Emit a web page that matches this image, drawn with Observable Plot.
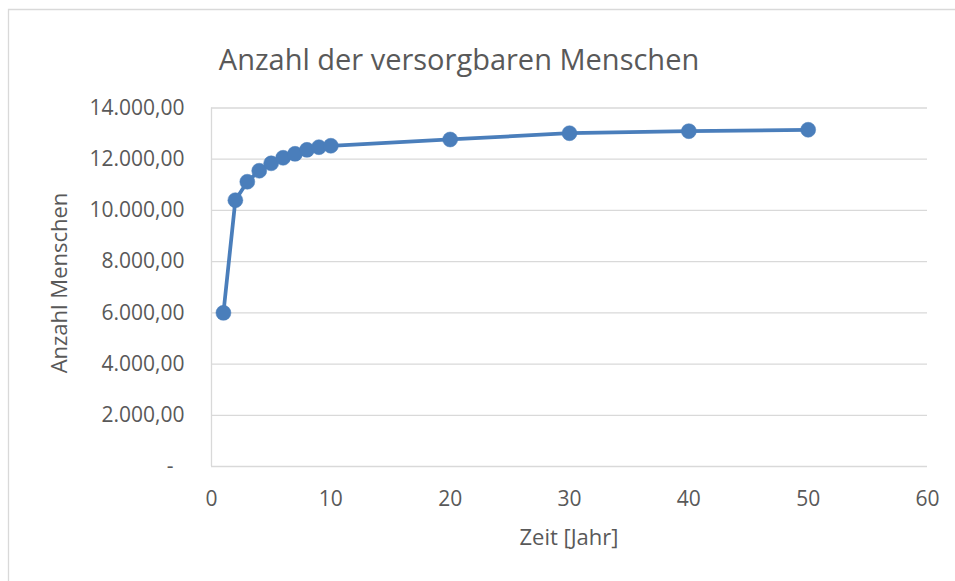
<!DOCTYPE html>
<html>
<head>
<meta charset="utf-8">
<script src="https://cdn.jsdelivr.net/npm/d3@7"></script>
<script src="https://cdn.jsdelivr.net/npm/@observablehq/plot@0.6"></script>
<style>
  html, body { margin: 0; padding: 0; background: #fff; }
  #chart { position: relative; width: 955px; height: 581px; overflow: hidden; }
</style>
</head>
<body>
<div id="chart"></div>
<script>
const years = [1, 2, 3, 4, 5, 6, 7, 8, 9, 10, 20, 30, 40, 50];
const people = [6000, 10400, 11120, 11550, 11840, 12055, 12210, 12365, 12470, 12525, 12770, 13015, 13095, 13150];
const xTicks = [0, 10, 20, 30, 40, 50, 60];
const yTicks = [0, 2000, 4000, 6000, 8000, 10000, 12000, 14000];
const titleText = "Anzahl der versorgbaren Menschen";
const xLabel = "Zeit [Jahr]";
const yLabel = "Anzahl Menschen";

const data = years.map((y, i) => ({year: y, value: people[i]}));

const de = d3.formatLocale({decimal: ",", thousands: ".", grouping: [3], currency: ["", "€"]});
const fmt = de.format(",.2f");
const yFmt = v => v === 0 ? "-\u00a0\u00a0" : fmt(v);

const blue = "#4a7ebb";
const grid = "#d9d9d9";
const textCol = "#595959";

const plot = Plot.plot({
  width: 955,
  height: 581,
  marginLeft: 211,
  marginRight: 28,
  marginTop: 107.5,
  marginBottom: 115,
  style: {fontFamily: "Open Sans", fontSize: "21px", color: textCol, background: "transparent"},
  x: {domain: [0, 60], ticks: xTicks},
  y: {domain: [0, 14000], ticks: yTicks},
  marks: [
    Plot.gridY(yTicks.filter(d => d > 0), {stroke: grid, strokeOpacity: 1, strokeWidth: 1.3}),
    Plot.ruleY([0], {stroke: grid, strokeWidth: 1.3}),
    Plot.ruleX([0], {y1: 0, y2: 14000, stroke: grid, strokeWidth: 1.3}),
    Plot.axisX({ticks: xTicks, tickSize: 0, tickPadding: 25, label: null, fontSize: 21, fill: textCol}),
    Plot.axisY({ticks: yTicks, tickSize: 0, tickPadding: 27, tickFormat: yFmt, label: null, fontSize: 21, fill: textCol}),
    Plot.line(data, {x: "year", y: "value", stroke: blue, strokeWidth: 3.75}),
    Plot.dot(data, {x: "year", y: "value", r: 7.5, fill: blue, stroke: blue, strokeWidth: 0.5})
  ]
});

document.getElementById("chart").appendChild(plot);
const svg = d3.select(plot);

// chart border (only top and left edges visible in the frame)
svg.insert("path", ":first-child")
  .attr("d", "M8.5,590V9.5H960")
  .attr("fill", "none")
  .attr("stroke", grid)
  .attr("stroke-width", 1.3);

svg.append("text")
  .attr("x", 459).attr("y", 70)
  .attr("text-anchor", "middle")
  .attr("fill", textCol)
  .style("font-family", "Open Sans")
  .style("font-size", "29px")
  .text(titleText);

svg.append("text")
  .attr("x", 569).attr("y", 545)
  .attr("text-anchor", "middle")
  .attr("fill", textCol)
  .style("font-family", "Open Sans")
  .style("font-size", "22px")
  .text(xLabel);

svg.append("text")
  .attr("transform", "translate(67,283) rotate(-90)")
  .attr("text-anchor", "middle")
  .attr("fill", textCol)
  .style("font-family", "Open Sans")
  .style("font-size", "22px")
  .text(yLabel);
</script>
</body>
</html>
